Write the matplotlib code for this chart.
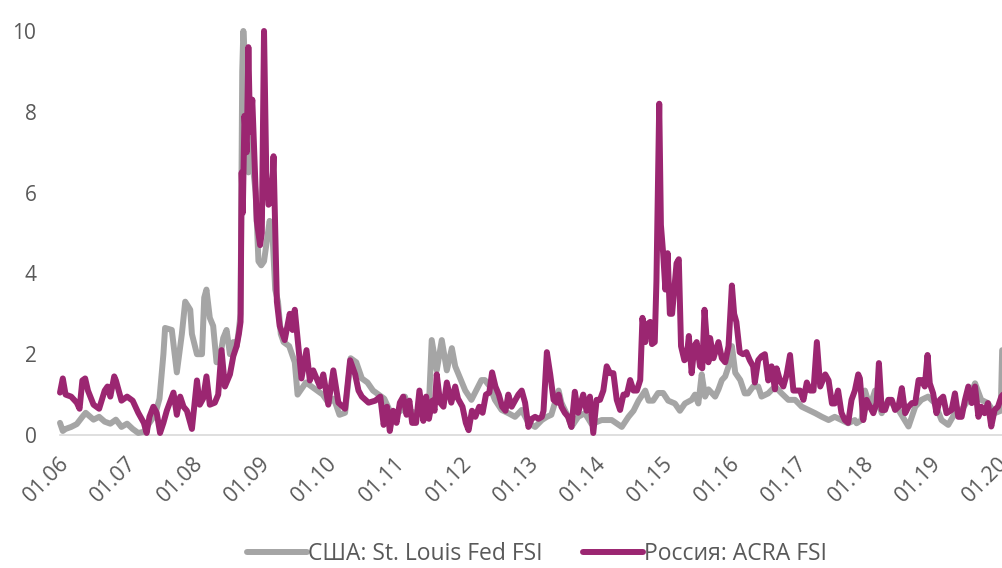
import matplotlib
matplotlib.use("Agg")
import matplotlib.pyplot as plt
import matplotlib.transforms as mtransforms
import numpy as np

plt.rcParams['font.family'] = ['Open Sans', 'DejaVu Sans']

# months since Jan 2006 and index values
us_months = [0, 0.5, 1, 2, 3, 4, 4.6, 5, 6, 7, 8, 9, 10, 11, 12, 13, 14, 15, 16, 17, 17.8, 18.5, 18.8,
             20.0, 20.9, 21.8, 22.4, 23.3, 23.6, 24.5, 25.4, 25.8, 26.2, 26.8, 27.4, 28.0, 28.6, 29.2,
             29.8, 30.4, 31.0, 31.6, 32.0, 32.3, 32.6, 32.8, 33.1, 33.4, 33.7, 34.0, 34.4, 35.0, 35.5,
             36.0, 36.5, 37.0, 37.5, 38.0, 38.5, 39.0, 39.5, 40.0, 41.0, 42.0, 42.5, 43.0, 44.0, 45.0,
             46.0, 47.0, 48.0, 49.0, 50.0, 51.0, 52.0, 53.0, 54.0, 55.0, 56.0, 57.0, 58.0, 59.0, 60.0,
             61.0, 61.7, 62.5, 63.5, 64.5, 65.5, 66.0, 66.5, 67.4, 68.3, 69.2, 70.1, 70.7, 71.3, 72.5,
             73.6, 74.8, 75.4, 76.0, 76.9, 77.8, 79.0, 80.2, 81.4, 82.6, 83.8, 85.0, 86.2, 87.1, 87.9,
             89.2, 89.7, 90.9, 91.5, 92.7, 93.9, 95.1, 96.9, 98.7, 100.5, 101.7, 102.6, 103.5, 104.7,
             105.3, 106.1, 107.0, 107.9, 108.8, 110.0, 110.9, 111.8, 113.0, 113.6, 114.2, 114.8, 115.4,
             116.0, 117.2, 117.8, 118.4, 119.0, 119.6, 120.2, 120.8, 121.7, 122.5, 123.1, 124.0, 124.9,
             125.5, 126.7, 127.9, 129.1, 130.3, 131.5, 132.7, 133.9, 135.1, 136.3, 137.5, 138.6, 139.8,
             141.0, 142.2, 142.5, 143.4, 144.0, 144.9, 145.8, 147.0, 148.2, 150.0, 151.8, 153.0, 154.1,
             155.3, 156.5, 157.7, 158.9, 160.1, 161.3, 162.5, 163.7, 164.8, 166.0, 167.2, 168.3, 168.55]
us_values = [0.3, 0.1, 0.15, 0.2, 0.27, 0.45, 0.55, 0.5, 0.38, 0.45, 0.33, 0.28, 0.38, 0.2, 0.28, 0.15,
             0.05, 0.08, 0.3, 0.5, 0.9, 2.0, 2.65, 2.6, 1.55, 2.5, 3.3, 3.1, 2.5, 2.0, 2.0, 3.4, 3.6, 2.9,
             2.7, 1.8, 1.9, 2.4, 2.6, 2.0, 2.3, 2.2, 2.6, 3.0, 9.0, 10.0, 9.3, 7.5, 6.5, 7.5, 6.8, 6.0,
             4.3, 4.2, 4.3, 4.8, 5.3, 5.0, 3.6, 3.3, 2.5, 2.3, 2.2, 1.8, 1.0, 1.1, 1.3, 1.2, 1.1, 1.0,
             0.8, 0.9, 0.5, 0.55, 1.9, 1.8, 1.4, 1.3, 1.1, 1.0, 0.9, 0.6, 0.55, 0.6, 0.95, 0.6, 0.55,
             0.6, 0.6, 0.75, 2.35, 1.6, 2.35, 1.6, 2.15, 1.7, 1.5, 1.1, 0.87, 1.2, 1.36, 1.36, 1.2,
             0.87, 0.62, 0.54, 0.45, 0.62, 0.3, 0.2, 0.37, 0.45, 0.5, 1.1, 0.8, 0.45, 0.2, 0.45, 0.54,
             0.27, 0.37, 0.37, 0.2, 0.45, 0.6, 0.85, 1.1, 0.85, 0.85, 1.04, 1.04, 0.85, 0.78, 0.6, 0.78,
             0.87, 1.0, 0.78, 1.5, 0.95, 1.13, 0.95, 1.13, 1.36, 1.45, 1.7, 2.2, 1.54, 1.36, 1.03, 1.03,
             1.2, 1.2, 0.95, 1.03, 1.2, 1.03, 0.87, 0.87, 0.7, 0.62, 0.54, 0.45, 0.37, 0.45, 0.37, 0.29,
             0.37, 0.29, 0.37, 1.1, 0.7, 1.1, 0.54, 0.87, 0.62, 0.21, 0.7, 0.87, 0.95, 0.79, 0.37, 0.25,
             0.54, 0.62, 0.87, 1.28, 0.87, 0.79, 0.54, 0.6, 2.1]

ru_months = [0, 0.5, 1, 2, 3, 3.5, 4, 4.5, 5, 6, 7, 8, 8.5, 9, 9.7, 10, 11, 12, 13, 14, 15, 15.5, 16,
             16.7, 17.3, 17.9, 18.5, 19.1, 20.3, 20.9, 21.5, 22.1, 22.7, 23.6, 24.5, 25.0, 25.6, 26.2,
             26.8, 27.7, 28.3, 28.9, 29.5, 30.4, 31.0, 31.6, 32.0, 32.3, 32.5, 32.7, 33.0, 33.4, 33.7,
             34.0, 34.4, 35.2, 35.8, 36.1, 36.5, 36.9, 37.3, 37.9, 38.2, 38.8, 39.3, 40.2, 41.1, 41.6,
             42.0, 43.2, 44.1, 44.7, 45.3, 45.9, 46.5, 47.1, 48.0, 48.9, 49.8, 51.0, 51.9, 52.8, 53.4,
             54.0, 55.2, 56.4, 57.3, 57.9, 58.5, 59.0, 59.6, 60.2, 60.8, 61.4, 62.0, 62.5, 63.0, 63.7,
             64.3, 65.0, 65.5, 66.0, 66.6, 67.0, 67.4, 68.0, 68.6, 69.2, 70.0, 70.7, 71.2, 72.0, 72.6,
             73.1, 73.7, 74.3, 75.0, 75.6, 76.2, 76.8, 77.3, 77.9, 78.5, 79.1, 79.7, 80.2, 80.8, 81.4,
             82.0, 82.6, 83.2, 83.8, 84.4, 85.0, 85.6, 86.2, 86.5, 87.1, 87.7, 88.3, 88.9, 89.2, 89.7,
             90.3, 90.9, 91.5, 92.1, 92.7, 93.6, 94.2, 94.8, 95.4, 96.0, 96.6, 97.2, 97.8, 98.4, 99.0,
             99.6, 100.2, 100.8, 101.4, 102.0, 102.6, 103.2, 103.8, 104.2, 104.7, 105.0, 105.6, 105.9,
             106.4, 106.7, 107.2, 107.5, 107.9, 108.3, 108.7, 109.1, 109.5, 110.0, 110.3, 110.7, 111.1,
             111.7, 112.1, 112.5, 113.0, 113.5, 113.9, 114.5, 114.9, 115.3, 116.0, 116.3, 116.9, 117.8,
             118.4, 119.0, 119.6, 120.2, 120.6, 121.0, 121.6, 122.2, 122.8, 123.4, 124.0, 124.3, 124.9,
             125.5, 126.1, 126.7, 127.3, 127.9, 128.2, 128.8, 129.4, 130.0, 130.6, 131.2, 131.8, 132.4,
             133.0, 133.6, 134.2, 134.8, 135.4, 136.0, 136.9, 137.5, 138.1, 138.6, 139.2, 139.8, 140.4,
             141.0, 141.6, 142.2, 142.8, 143.1, 143.7, 144.3, 144.9, 145.5, 146.1, 146.5, 147.0, 147.6,
             148.2, 148.8, 149.4, 150.0, 150.6, 151.2, 151.8, 152.4, 153.0, 153.6, 154.1, 154.7, 155.2,
             155.6, 156.2, 156.8, 157.4, 158.0, 158.6, 159.5, 160.1, 160.7, 161.3, 161.9, 162.5, 163.1,
             163.7, 164.3, 164.8, 165.4, 166.0, 166.6, 167.2, 167.8, 168.4, 168.7]
ru_values = [1.05, 1.4, 1.0, 0.95, 0.8, 0.65, 1.35, 1.4, 1.1, 0.75, 0.65, 1.1, 1.2, 0.95, 1.45, 1.35,
             0.85, 0.95, 0.85, 0.55, 0.3, 0.05, 0.45, 0.7, 0.55, 0.05, 0.3, 0.6, 1.05, 0.5, 0.95, 0.7,
             0.6, 0.15, 1.35, 0.75, 0.9, 1.45, 0.75, 0.8, 1.0, 2.1, 1.2, 1.5, 1.95, 2.2, 2.5, 2.8, 6.5,
             5.5, 7.9, 7.0, 9.6, 7.5, 8.3, 5.3, 4.7, 5.0, 10.0, 6.5, 5.7, 5.8, 6.9, 3.3, 2.7, 2.35, 3.0,
             2.6, 3.1, 1.4, 2.1, 1.35, 1.6, 1.4, 1.2, 1.5, 0.75, 1.6, 0.8, 0.65, 1.85, 1.5, 1.1, 0.95,
             0.8, 0.85, 0.95, 0.25, 0.7, 0.1, 0.6, 0.3, 0.8, 0.95, 0.5, 0.85, 0.3, 0.3, 1.1, 0.35, 0.95,
             0.4, 0.85, 0.6, 1.5, 0.8, 0.7, 1.3, 0.8, 1.2, 0.9, 0.7, 0.3, 0.12, 0.6, 0.45, 0.7, 0.55,
             1.0, 1.05, 1.55, 1.2, 1.0, 0.7, 0.6, 1.0, 0.7, 0.85, 1.0, 1.1, 0.8, 0.2, 0.4, 0.45, 0.4,
             0.45, 0.6, 2.05, 1.5, 0.87, 0.8, 1.0, 0.7, 0.55, 0.45, 0.2, 1.07, 0.55, 1.0, 0.6, 0.95,
             0.05, 0.87, 0.87, 1.1, 1.7, 1.53, 1.53, 0.87, 0.62, 1.0, 1.0, 1.36, 1.1, 1.1, 1.36, 2.9,
             2.3, 2.74, 2.8, 2.25, 2.3, 3.8, 8.2, 5.2, 4.5, 3.6, 4.5, 3.0, 3.0, 3.8, 4.25, 4.35, 2.2,
             1.85, 1.9, 2.45, 1.53, 2.2, 2.3, 1.7, 1.65, 3.1, 1.8, 2.4, 1.9, 2.3, 1.9, 1.8, 2.2, 3.7,
             3.0, 2.8, 2.05, 2.0, 2.05, 1.85, 1.7, 1.3, 1.85, 1.95, 2.0, 1.35, 1.7, 1.13, 1.65, 1.35,
             1.2, 1.5, 1.98, 1.1, 1.1, 1.1, 0.87, 1.3, 1.1, 1.1, 2.3, 1.2, 1.5, 1.35, 0.78, 0.78, 1.1,
             0.55, 0.37, 0.3, 0.87, 1.1, 1.5, 1.4, 0.37, 0.87, 0.7, 0.54, 0.79, 1.78, 0.62, 0.62, 0.87,
             0.87, 0.62, 0.7, 1.16, 0.54, 0.7, 0.79, 0.79, 1.36, 1.36, 1.2, 1.98, 1.28, 1.03, 0.54,
             0.87, 0.95, 0.54, 0.62, 1.03, 0.45, 0.45, 0.87, 1.2, 0.79, 1.2, 0.45, 0.7, 0.54, 0.79, 0.21,
             0.62, 0.7, 0.95, 1.0]

tick_years = list(range(2006, 2021))
tick_labels = ['01.%02d' % (y % 100) for y in tick_years]
y_ticks = [0, 2, 4, 6, 8, 10]

series_names = ['США: St. Louis Fed FSI', 'Россия: ACRA FSI']
colors = ['#A5A5A5', '#9B2671']

us_t = 2006 + np.array(us_months) / 12.0
ru_t = 2006 + np.array(ru_months) / 12.0

fig = plt.figure(figsize=(10.03, 5.68), dpi=100)
ax = fig.add_axes([60 / 1003, (568 - 435) / 568, 943 / 1003, (435 - 31) / 568])

l1, = ax.plot(us_t, us_values, color=colors[0], lw=4.3, solid_joinstyle='round',
              solid_capstyle='round', clip_on=False, zorder=3)
l2, = ax.plot(ru_t, ru_values, color=colors[1], lw=4.3, solid_joinstyle='round',
              solid_capstyle='round', clip_on=False, zorder=4)

ax.set_xlim(2006.0, 2006 + 168.7 / 12)
ax.set_ylim(0, 10)

for s in ['top', 'right', 'left']:
    ax.spines[s].set_visible(False)
ax.spines['bottom'].set_color('#D9D9D9')
ax.spines['bottom'].set_linewidth(1.2)
ax.spines['bottom'].set_zorder(1)

ax.set_yticks(y_ticks)
ax.set_yticklabels([str(v) for v in y_ticks])
ax.set_xticks(tick_years)
ax.set_xticklabels(tick_labels, rotation=45, ha='right', va='center', rotation_mode='anchor')
ax.tick_params(axis='y', length=0, pad=17, labelsize=15, labelcolor='#595959')
ax.tick_params(axis='x', length=0, pad=18, labelsize=15.5, labelcolor='#595959')
offset = mtransforms.ScaledTranslation(0.06, 0.0, fig.dpi_scale_trans)
for lab in ax.get_xticklabels():
    lab.set_transform(lab.get_transform() + offset)

fig.legend([l1, l2], series_names, loc='center', bbox_to_anchor=(537 / 1003, 1 - 554 / 568),
           ncol=2, frameon=False, fontsize=16.5, labelcolor='#595959', handlelength=2.6,
           handletextpad=0.05, columnspacing=1.8)

fig.savefig('out.png', dpi=100)
